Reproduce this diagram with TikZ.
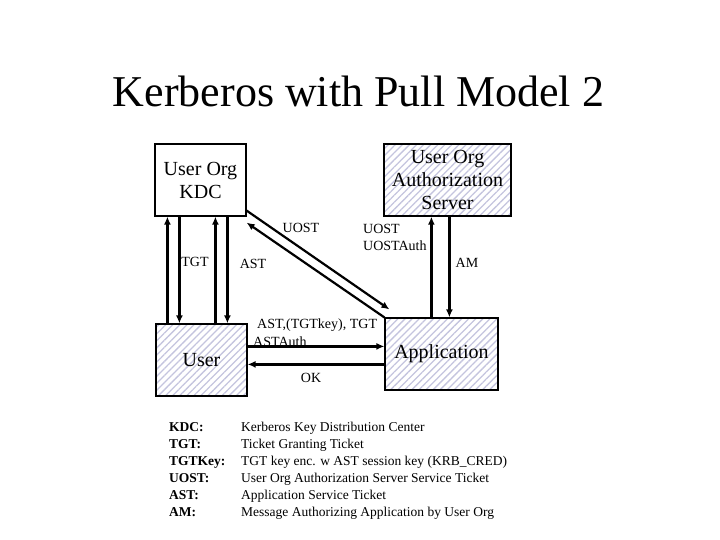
\documentclass[tikz,border=0pt]{standalone}
\usepackage{fontspec}
\setmainfont{Liberation Serif}
\usetikzlibrary{arrows.meta,patterns.meta,positioning}
\definecolor{hatchblue}{RGB}{196,196,222}
\tikzset{
  box/.style={
    draw=black,
    line width=1.2pt,
    align=center,
    inner sep=0pt,
    font=\fontsize{20}{23}\selectfont
  },
  hatched/.style={pattern={Lines[angle=45,distance=5pt,line width=1.3pt]}, pattern color=hatchblue},
  msg/.style={-{Latex[length=8pt,width=7pt]}, line width=2.2pt},
  lbl/.style={font=\fontsize{14}{17}\selectfont, inner sep=0pt},
  legterm/.style={font=\fontsize{13.5}{17}\selectfont\bfseries, anchor=base west, inner sep=0pt},
  legdef/.style={font=\fontsize{13.5}{17}\selectfont, anchor=base west, inner sep=0pt}
}

\begin{document}
\begin{tikzpicture}[x=1pt,y=-1pt]
        \useasboundingbox (0,0) rectangle (720,540);
        \node[font=\fontsize{44}{50}\selectfont, anchor=base] (title) at (358.5,107) {Kerberos with Pull Model 2};

        \node[box, minimum width=91pt, minimum height=72pt] (kdc) at (200.5,180) {User Org\\KDC};
        \node[box, hatched, minimum width=127pt, minimum height=72pt] (authsrv) at (447.5,180) {User Org\\Authorization\\Server};
        \node[box, hatched, minimum width=91pt, minimum height=72pt] (user) at (201.5,360) {User};
        \node[box, hatched, minimum width=113pt, minimum height=72pt] (app) at (441.5,354) {Application};

        % user <-> kdc
        \draw[msg] ([xshift=12pt]user.north west) -- ([xshift=12pt]user.north west |- kdc.south);
        \draw[msg] ([xshift=24pt]user.north west |- kdc.south) -- ([xshift=24pt]user.north west);
        \draw[msg] ([xshift=60pt]user.north west) -- ([xshift=60pt]user.north west |- kdc.south);
        \draw[msg] ([xshift=72pt]user.north west |- kdc.south) -- ([xshift=72pt]user.north west);
        % app <-> authorization server
        \draw[msg] ([xshift=47pt]app.north west) -- ([xshift=47pt]app.north west |- authsrv.south);
        \draw[msg] ([xshift=65pt]app.north west |- authsrv.south) -- ([xshift=65pt]app.north west);
        % kdc <-> app
        \draw[msg] ([yshift=6pt]kdc.south east) -- ([xshift=5pt,yshift=8pt]app.north west);
        \draw[msg] (app.north west) -- ([yshift=-6pt]kdc.south east);
        % user <-> app
        \draw[msg] ([yshift=-23pt]user.north east) -- ([yshift=-23pt]user.north east -| app.west);
        \draw[msg] ([yshift=-41pt]user.north east -| app.west) -- ([yshift=-41pt]user.north east);

        \node[lbl] (tgt) at (195,262) {TGT};
        \node[lbl] (ast) at (253,264) {AST};
        \node[lbl] (uost) at (301,228) {UOST};
        \node[lbl, align=left, anchor=north west] (uostauth) at (363,224) {UOST\\UOSTAuth};
        \node[lbl] (am) at (467,263) {AM};
        \node[lbl, anchor=west] (req) at (257,325) {AST,(TGTkey), TGT};
        \node[lbl, anchor=west] (astauth) at (253,342) {ASTAuth};
        \node[lbl] (ok) at (311,378) {OK};

        % legend
        \foreach \term/\desc [count=\i from 0] in {KDC:/Kerberos Key Distribution Center,
            TGT:/Ticket Granting Ticket,
            TGTKey:/TGT key enc. w AST session key (KRB\_CRED),
            UOST:/User Org Authorization Server Service Ticket,
            AST:/Application Service Ticket,
            AM:/Message Authorizing Application by User Org}
        {
          \node[legterm] (term\i) at (169,{431+17*\i}) {\term};
          \node[legdef] (def\i) at (241,{431+17*\i}) {\desc};
        }
      \end{tikzpicture}
\end{document}
